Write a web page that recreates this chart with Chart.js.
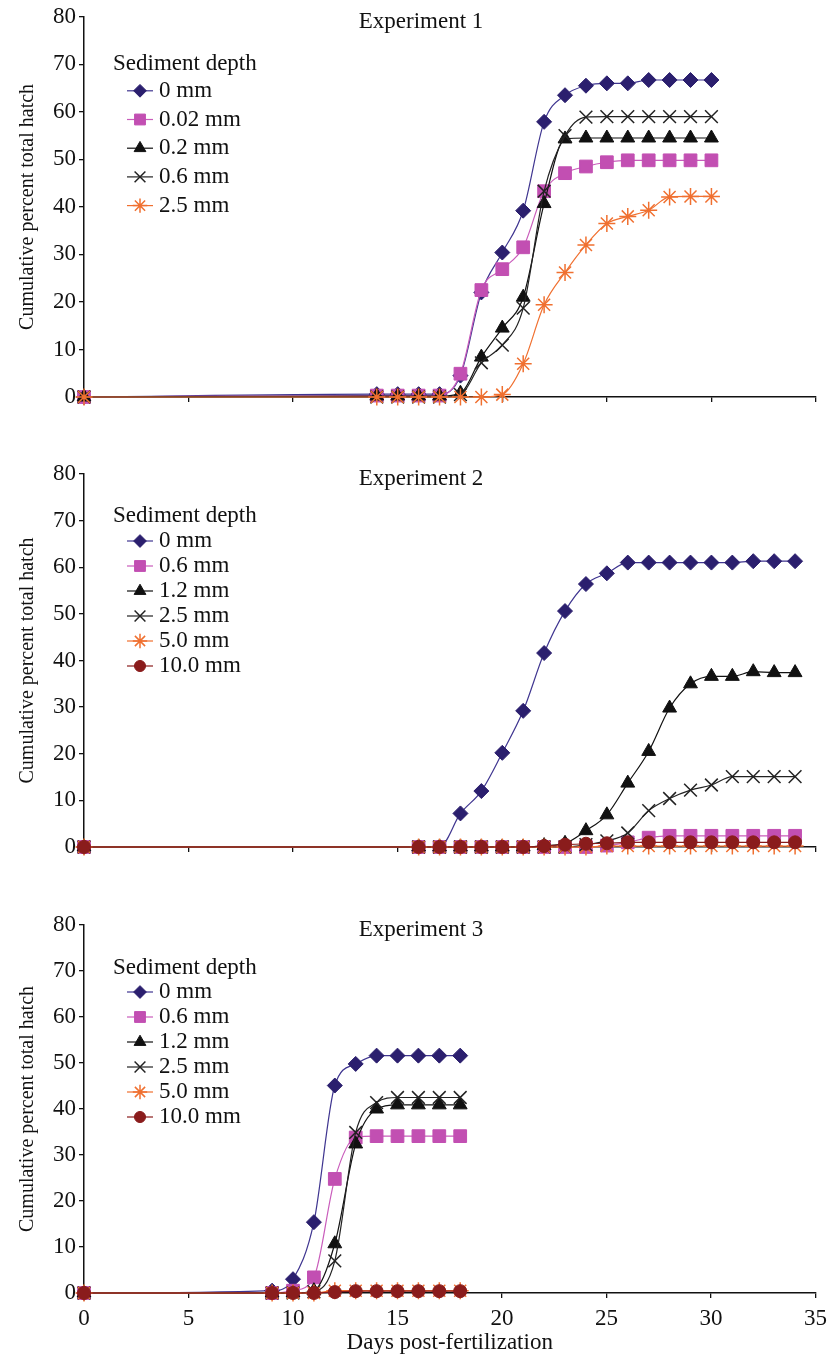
<!DOCTYPE html>
<html>
<head>
<meta charset="utf-8">
<script src="https://cdn.jsdelivr.net/npm/chart.js@4.4.1/dist/chart.umd.min.js"></script>
<style>
  html, body { margin: 0; padding: 0; background: #fff; }
  body { width: 834px; height: 1361px; position: relative; overflow: hidden; }
  canvas { position: absolute; left: 0; }
</style>
</head>
<body>
<canvas id="exp1" width="834" height="440" style="top:0"></canvas>
<canvas id="exp2" width="834" height="440" style="top:450px"></canvas>
<canvas id="exp3" width="834" height="461" style="top:900px"></canvas>
<script>
// tick values shared by all three panels
const xTickValues = [0, 5, 10, 15, 20, 25, 30, 35];
const yTickValues = [0, 10, 20, 30, 40, 50, 60, 70, 80];

// Experiment 1
const exp1Labels = ['0 mm', '0.02 mm', '0.2 mm', '0.6 mm', '2.5 mm'];
const exp1Days = [0, 14, 15, 16, 17, 18, 19, 20, 21, 22, 23, 24, 25, 26, 27, 28, 29, 30];
const exp1_0mm   = [0, 0.6, 0.6, 0.6, 0.6, 4.5, 22, 30.4, 39.2, 57.9, 63.5, 65.5, 66, 66, 66.7, 66.7, 66.7, 66.7];
const exp1_002mm = [0, 0.3, 0.3, 0.3, 0.3, 4.9, 22.5, 26.9, 31.5, 43.3, 47.1, 48.5, 49.4, 49.8, 49.8, 49.8, 49.8, 49.8];
const exp1_02mm  = [0, 0.2, 0.2, 0.2, 0.2, 0.8, 8.4, 14.5, 21, 40.7, 54.3, 54.5, 54.5, 54.5, 54.5, 54.5, 54.5, 54.5];
const exp1_06mm  = [0, 0, 0, 0, 0, 0.5, 7.2, 10.9, 18.7, 43.3, 55, 58.9, 59, 59, 59, 59, 59, 59];
const exp1_25mm  = [0, 0, 0, 0, 0, 0, 0, 0.5, 7, 19.4, 26.2, 32, 36.5, 38, 39.3, 42.1, 42.2, 42.2];

// Experiment 2
const exp2Labels = ['0 mm', '0.6 mm', '1.2 mm', '2.5 mm', '5.0 mm', '10.0 mm'];
const exp2Days = [0, 16, 17, 18, 19, 20, 21, 22, 23, 24, 25, 26, 27, 28, 29, 30, 31, 32, 33, 34];
const exp2_0mm  = [0, 0, 0, 7.2, 12, 20.2, 29.2, 41.6, 50.6, 56.4, 58.7, 61, 61, 61, 61, 61, 61, 61.3, 61.3, 61.3];
const exp2_06mm = [0, 0, 0, 0, 0, 0, 0, 0, 0, 0, 0.3, 1, 2, 2.4, 2.4, 2.4, 2.4, 2.4, 2.4, 2.4];
const exp2_12mm = [0, 0, 0, 0, 0, 0, 0, 0.3, 0.8, 3.5, 6.9, 13.7, 20.5, 29.8, 35, 36.6, 36.6, 37.6, 37.4, 37.4];
const exp2_25mm = [0, 0, 0, 0, 0, 0, 0, 0, 0, 0.5, 1.3, 3, 7.8, 10.4, 12.2, 13.3, 15.1, 15.1, 15.1, 15.1];
const exp2_50mm = [0, 0, 0, 0, 0, 0, 0, 0, 0, 0, 0.2, 0.2, 0.2, 0.2, 0.2, 0.2, 0.2, 0.2, 0.2, 0.2];
const exp2_10mm = [0, 0, 0, 0, 0, 0, 0, 0.2, 0.5, 0.7, 0.8, 1, 1, 1, 1, 1, 1, 1, 1, 1];

// Experiment 3
const exp3Labels = ['0 mm', '0.6 mm', '1.2 mm', '2.5 mm', '5.0 mm', '10.0 mm'];
const exp3Days = [0, 9, 10, 11, 12, 13, 14, 15, 16, 17, 18];
const exp3_0mm  = [0, 0.5, 3, 15.4, 45.1, 49.8, 51.6, 51.6, 51.6, 51.6, 51.6];
const exp3_06mm = [0, 0, 0.5, 3.4, 24.8, 33.8, 34.1, 34.1, 34.1, 34.1, 34.1];
const exp3_12mm = [0, 0, 0, 0.5, 10.7, 32.4, 40, 40.9, 40.9, 40.9, 40.9];
const exp3_25mm = [0, 0, 0, 0.3, 7, 34.9, 41.4, 42.5, 42.5, 42.5, 42.5];
const exp3_50mm = [0, 0, 0, 0, 0.5, 0.5, 0.5, 0.5, 0.5, 0.5, 0.5];
const exp3_10mm = [0, 0, 0, 0, 0.2, 0.4, 0.4, 0.4, 0.4, 0.4, 0.4];

// marker look by series position (same order in every panel)
const seriesStyles = [
  { fill: '#2b1f6e', line: '#3f3590', shape: 'rectRot', r: 7.5, bw: 1 },
  { fill: '#c24fb2', line: '#c95cbb', shape: 'rect', r: 9, bw: 1 },
  { fill: '#111111', line: '#111111', shape: 'triangle', r: 8, bw: 1 },
  { fill: '#222222', line: '#222222', shape: 'crossRot', r: 9, bw: 1.5 },
  { fill: '#f07030', line: '#f07030', shape: 'star', r: 8.5, bw: 1.5 },
  { fill: '#8a1c1c', line: '#8a1c1c', shape: 'circle', r: 6.5, bw: 1 }
];

const FONT = '"Liberation Serif", "Times New Roman", serif';

// title + in-plot legend, as in the figure
const panelDecor = {
  id: 'panelDecor',
  afterDraw(chart, args, opts) {
    const ctx = chart.ctx;
    const area = chart.chartArea;
    ctx.save();
    ctx.font = '23px ' + FONT;
    ctx.fillStyle = '#111';
    ctx.textBaseline = 'middle';
    ctx.textAlign = 'center';
    ctx.fillText(opts.title, area.left + 337, area.top + 5);
    ctx.textAlign = 'left';
    ctx.fillText('Sediment depth', 113, area.top + opts.legendTop);
    chart.data.datasets.forEach((ds, i) => {
      const y = area.top + opts.firstRow + i * opts.rowGap;
      const cx = 140;
      ctx.strokeStyle = ds.borderColor;
      ctx.lineWidth = 1.2;
      ctx.beginPath();
      ctx.moveTo(cx - 13, y);
      ctx.lineTo(cx + 13, y);
      ctx.stroke();
      ctx.fillStyle = ds.pointBackgroundColor;
      ctx.strokeStyle = ds.pointBorderColor;
      ctx.lineWidth = ds.pointBorderWidth;
      Chart.helpers.drawPoint(ctx, {
        pointStyle: ds.pointStyle, radius: ds.pointRadius * 0.85,
        rotation: 0, borderWidth: ds.pointBorderWidth
      }, cx, y);
      ctx.fillStyle = '#111';
      ctx.fillText(ds.label, 159, y);
    });
    ctx.restore();
  }
};

function makeDatasets(labels, days, series) {
  return series.map((vals, i) => {
    const st = seriesStyles[i];
    return {
      label: labels[i],
      data: days.map((d, k) => ({ x: d, y: vals[k] })),
      borderColor: st.line,
      borderWidth: 1.2,
      pointStyle: st.shape,
      pointRadius: st.r,
      pointBackgroundColor: st.fill,
      pointBorderColor: st.fill,
      pointBorderWidth: st.bw,
      cubicInterpolationMode: 'monotone',
      clip: false,
      order: series.length - i
    };
  });
}

function drawPanel(id, labels, days, series, cfg) {
  new Chart(document.getElementById(id), {
    type: 'line',
    data: { datasets: makeDatasets(labels, days, series) },
    plugins: [panelDecor],
    options: {
      responsive: false,
      animation: false,
      layout: { autoPadding: false, padding: { top: cfg.top, right: 18, left: 0, bottom: 0 } },
      plugins: {
        legend: { display: false },
        tooltip: { enabled: false },
        panelDecor: { title: cfg.title, legendTop: cfg.legendTop, firstRow: cfg.firstRow, rowGap: cfg.rowGap }
      },
      scales: {
        x: {
          type: 'linear', min: 0, max: 35,
          afterBuildTicks: s => { s.ticks = xTickValues.map(v => ({ value: v })); },
          afterFit: s => { s.height = cfg.xHeight; },
          grid: { display: true, drawOnChartArea: false, drawTicks: true, tickLength: 5, color: '#111', lineWidth: 1.3 },
          border: { display: true, color: '#111', width: 1.5 },
          ticks: { display: cfg.showX, color: '#111', padding: 7, maxRotation: 0, font: { family: FONT, size: 23 } },
          title: {
            display: cfg.showX, text: 'Days post-fertilization', color: '#111',
            padding: { top: 0, bottom: 4 }, font: { family: FONT, size: 23 }
          }
        },
        y: {
          min: 0, max: 80,
          afterBuildTicks: s => { s.ticks = yTickValues.map(v => ({ value: v })); },
          afterFit: s => { s.width = 84; },
          grid: { display: true, drawOnChartArea: false, drawTicks: true, tickLength: 5, color: '#111', lineWidth: 1.3 },
          border: { display: true, color: '#111', width: 1.5 },
          ticks: { color: '#111', padding: 3, font: { family: FONT, size: 23 } },
          title: {
            display: true, text: 'Cumulative percent total hatch', color: '#111',
            padding: { top: 16, bottom: 0 }, font: { family: FONT, size: 20 }
          }
        }
      }
    }
  });
}

drawPanel('exp1', exp1Labels, exp1Days,
  [exp1_0mm, exp1_002mm, exp1_02mm, exp1_06mm, exp1_25mm],
  { title: 'Experiment 1', top: 15, xHeight: 43, showX: false, legendTop: 47, firstRow: 74, rowGap: 28.7 });

drawPanel('exp2', exp2Labels, exp2Days,
  [exp2_0mm, exp2_06mm, exp2_12mm, exp2_25mm, exp2_50mm, exp2_10mm],
  { title: 'Experiment 2', top: 24, xHeight: 43, showX: false, legendTop: 42, firstRow: 67, rowGap: 25 });

drawPanel('exp3', exp3Labels, exp3Days,
  [exp3_0mm, exp3_06mm, exp3_12mm, exp3_25mm, exp3_50mm, exp3_10mm],
  { title: 'Experiment 3', top: 25, xHeight: 68, showX: true, legendTop: 43, firstRow: 67, rowGap: 25 });
</script>
</body>
</html>
